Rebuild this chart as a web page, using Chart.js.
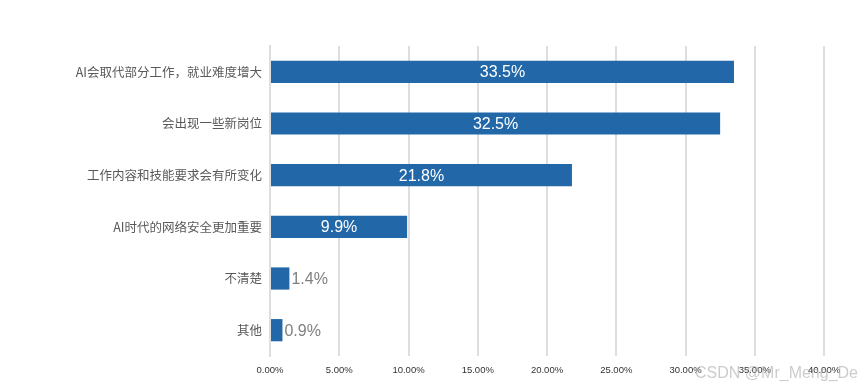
<!DOCTYPE html>
<html><head><meta charset="utf-8">
<script src="https://cdn.jsdelivr.net/npm/chart.js@4/dist/chart.umd.min.js"></script>
<style>html,body{margin:0;padding:0;background:#fff;}canvas{display:block;}</style>
</head><body>
<canvas id="c" width="861" height="387"></canvas>
<script>
const categories = ['AI会取代部分工作，就业难度增大','会出现一些新岗位','工作内容和技能要求会有所变化','AI时代的网络安全更加重要','不清楚','其他'];
const values = [33.5, 32.5, 21.8, 9.9, 1.4, 0.9];
const xTicks = [0,5,10,15,20,25,30,35,40];

const labelPlugin = {
  id: 'labels',
  afterDatasetsDraw(chart) {
    const ctx = chart.ctx;
    const meta = chart.getDatasetMeta(0);
    ctx.save();
    ctx.font = '16px "Liberation Sans", Arial, sans-serif';
    ctx.textBaseline = 'middle';
    meta.data.forEach((bar, i) => {
      const txt = values[i].toFixed(1) + '%';
      const w = bar.x - bar.base;
      if (values[i] >= 5) {
        ctx.fillStyle = '#ffffff';
        ctx.textAlign = 'center';
        ctx.fillText(txt, bar.base + w / 2, bar.y + 1);
      } else {
        ctx.fillStyle = '#7f7f7f';
        ctx.textAlign = 'left';
        ctx.fillText(txt, bar.x + 2, bar.y + 1);
      }
    });
    ctx.restore();
  },
  afterDraw(chart) {
    const ctx = chart.ctx;
    ctx.save();
    ctx.font = '16px "Liberation Sans", Arial, sans-serif';
    ctx.fillStyle = 'rgba(170,170,170,0.6)';
    ctx.textAlign = 'right';
    ctx.textBaseline = 'alphabetic';
    ctx.fillText('CSDN @Mr_Meng_De', 858, 378);
    ctx.restore();
  }
};

new Chart(document.getElementById('c'), {
  type: 'bar',
  data: {
    labels: categories,
    datasets: [{
      data: values,
      backgroundColor: '#2268a8',
      categoryPercentage: 0.86,
      barPercentage: 0.5
    }]
  },
  options: {
    indexAxis: 'y',
    responsive: false,
    animation: false,
    layout: { padding: { top: 46, right: 37, left: 0, bottom: 0 } },
    plugins: { legend: { display: false }, tooltip: { enabled: false } },
    scales: {
      x: {
        min: 0, max: 40,
        afterBuildTicks(scale) { scale.ticks = xTicks.map(v => ({ value: v })); },
        afterFit(scale) { scale.height = 31; },
        grid: { color: '#dedede', lineWidth: 2, drawTicks: false },
        border: { display: false },
        ticks: {
          padding: 9,
          color: '#333333',
          font: { family: '"Liberation Sans", Arial, sans-serif', size: 9.5 },
          callback: v => v.toFixed(2) + '%'
        }
      },
      y: {
        afterFit(scale) { scale.width = 270; },
        grid: { display: false, drawTicks: false },
        border: { display: true, color: '#dedede', width: 2 },
        ticks: {
          padding: 8,
          color: '#595959',
          font: { family: '"Noto Sans CJK SC", sans-serif', size: 12.5 }
        }
      }
    }
  },
  plugins: [labelPlugin]
});
</script>
</body></html>
